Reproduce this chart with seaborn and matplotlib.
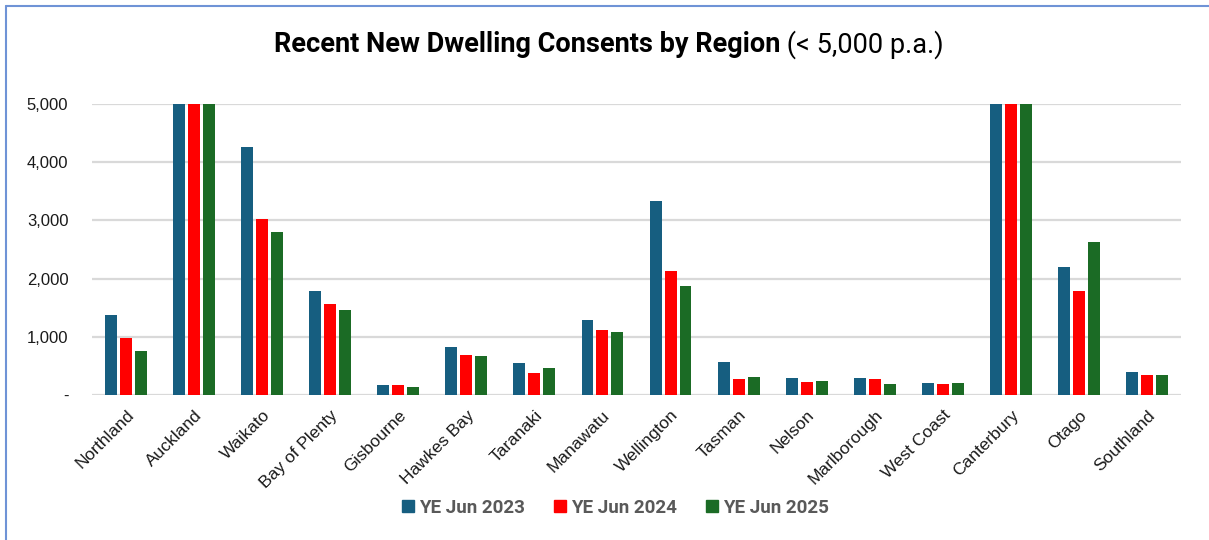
import numpy as np
import pandas as pd
import matplotlib
matplotlib.use("Agg")
import matplotlib.pyplot as plt
import seaborn as sns
from matplotlib.lines import Line2D

# -----------------------------
# DATA (Auckland / Canterbury run past the 5,000 cap)
# -----------------------------
regions = ["Northland", "Auckland", "Waikato", "Bay of Plenty", "Gisbourne",
           "Hawkes Bay", "Taranaki", "Manawatu", "Wellington", "Tasman",
           "Nelson", "Marlborough", "West Coast", "Canterbury", "Otago",
           "Southland"]
series_names = ["YE Jun 2023", "YE Jun 2024", "YE Jun 2025"]

ye_2023 = [1370, 5000, 4255, 1790, 172, 825, 555, 1295, 3340, 573,
           286, 286, 206, 5000, 2200, 395]
ye_2024 = [975, 5000, 3020, 1570, 172, 682, 372, 1117, 2125, 269,
           229, 269, 189, 5000, 1787, 338]
ye_2025 = [756, 5000, 2800, 1460, 137, 665, 464, 1082, 1878, 304,
           246, 189, 206, 5000, 2635, 338]

y_ticks = [0, 1000, 2000, 3000, 4000, 5000]
y_tick_labels = ["-", "1,000", "2,000", "3,000", "4,000", "5,000"]

colors = ["#165E80", "#FF0000", "#1B6B25"]

df = pd.DataFrame({
    "Region": regions * 3,
    "Series": np.repeat(series_names, len(regions)),
    "Consents": ye_2023 + ye_2024 + ye_2025,
})

# -----------------------------
# PLOT
# -----------------------------
sns.set_theme(style="white")
plt.rcParams["font.family"] = ["Liberation Sans", "DejaVu Sans"]
narrow = ["Liberation Sans Narrow", "Roboto", "DejaVu Sans"]

W, H = 1209, 540
fig = plt.figure(figsize=(W / 100, H / 100), dpi=100)
ax = fig.add_axes([92 / W, 1 - 395 / H, (1181 - 92) / W, (395 - 104) / H])

sns.barplot(
    data=df, x="Region", y="Consents", hue="Series",
    palette=colors, width=0.66, gap=0.2, saturation=1,
    linewidth=0, ax=ax, legend=False,
)

ax.set_ylim(0, 5000)
ax.set_xlim(-0.5, len(regions) - 0.5)
ax.set_yticks(y_ticks)
ax.set_yticklabels(y_tick_labels, fontsize=12, color="#1a1a1a")
ax.set_xticks(range(len(regions)))
ax.set_xticklabels(regions, rotation=45, ha="right", rotation_mode="anchor",
                   fontsize=12.5, color="#1a1a1a")
ax.tick_params(axis="y", length=0, pad=17)
ax.tick_params(axis="x", length=0, pad=9)
ax.set_xlabel("")
ax.set_ylabel("")

for s in ax.spines.values():
    s.set_visible(False)
for t in y_ticks:
    ax.axhline(t, color="#D9D9D9", lw=1.6, zorder=0)
ax.set_axisbelow(True)

# Legend
handles = [Line2D([], [], marker="s", ls="", markersize=9, color=c) for c in colors]
leg = fig.legend(handles, series_names, loc="center", bbox_to_anchor=(0.509, 1 - 508 / H),
                 ncol=3, frameon=False, handlelength=0.6, handletextpad=0.3,
                 columnspacing=1.55, prop={"family": narrow, "weight": "bold", "size": 13.5})
for t in leg.get_texts():
    t.set_color("#595959")

# Title: bold part + regular part, centred together
fig.canvas.draw()
r = fig.canvas.get_renderer()
t1 = fig.text(0, 1 - 45 / H, "Recent New Dwelling Consents by Region", fontsize=19.5,
              fontweight="bold", family=narrow, va="center", color="black")
t2 = fig.text(0, 1 - 45 / H, " (< 5,000 p.a.)", fontsize=19.5,
              family=narrow, va="center", color="black")
w1 = t1.get_window_extent(r).width
w2 = t2.get_window_extent(r).width
x0 = 609 - (w1 + w2) / 2
t1.set_x(x0 / W)
t2.set_x((x0 + w1) / W)

# Frame border (top and left visible in the screenshot)
fig.add_artist(Line2D([6 / W, 1], [1 - 6 / H, 1 - 6 / H], color="#6F93D6", lw=1.5))
fig.add_artist(Line2D([6 / W, 6 / W], [0, 1 - 6 / H], color="#6F93D6", lw=1.5))

fig.savefig("out.png", dpi=100)
